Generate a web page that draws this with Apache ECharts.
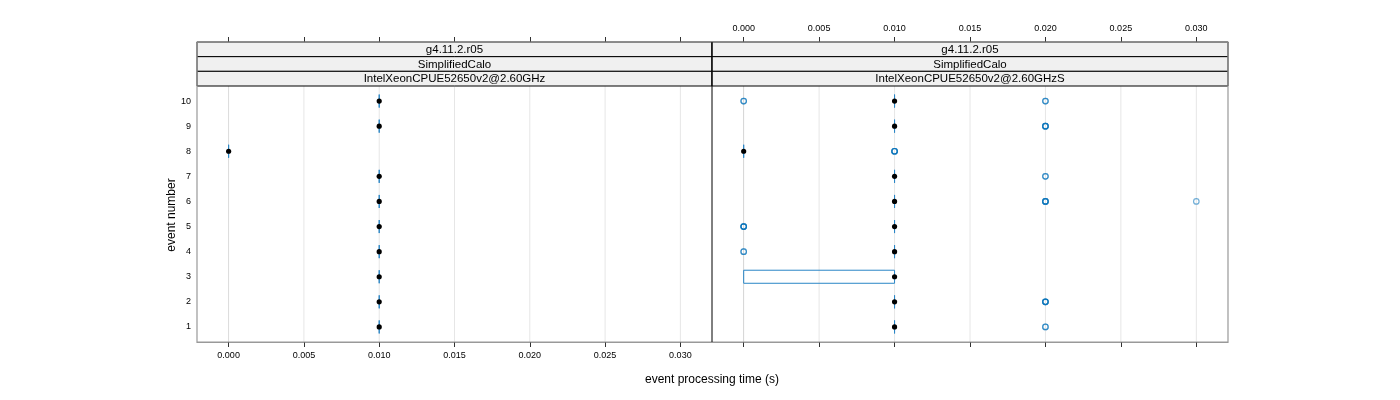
<!DOCTYPE html>
<html><head><meta charset="utf-8">
<script src="https://cdn.jsdelivr.net/npm/echarts@6/dist/echarts.min.js"></script>
<style>html,body{margin:0;padding:0;background:#fff}#c{width:1400px;height:400px}</style>
</head><body><div id="c"></div>
<script>
// ---- data ----
const events = [1, 2, 3, 4, 5, 6, 7, 8, 9, 10];
const xTicks = [0, 0.005, 0.010, 0.015, 0.020, 0.025, 0.030];
const yTicks = [1, 2, 3, 4, 5, 6, 7, 8, 9, 10];
const xLimits = [-0.0021, 0.0321];
const yLimits = [0.4, 10.6];
const stripLeft = ['g4.11.2.r05', 'SimplifiedCalo', 'IntelXeonCPUE52650v2@2.60GHz'];
const stripRight = ['g4.11.2.r05', 'SimplifiedCalo', 'IntelXeonCPUE52650v2@2.60GHzS'];
const xTitle = 'event processing time (s)';
const yTitle = 'event number';

// left panel (per event 1..10)
const leftLow    = [0.010, 0.010, 0.010, 0.010, 0.010, 0.010, 0.010, 0.000, 0.010, 0.010];
const leftQ1     = [0.010, 0.010, 0.010, 0.010, 0.010, 0.010, 0.010, 0.000, 0.010, 0.010];
const leftMedian = [0.010, 0.010, 0.010, 0.010, 0.010, 0.010, 0.010, 0.000, 0.010, 0.010];
const leftQ3     = [0.010, 0.010, 0.010, 0.010, 0.010, 0.010, 0.010, 0.000, 0.010, 0.010];
const leftHigh   = [0.010, 0.010, 0.010, 0.010, 0.010, 0.010, 0.010, 0.000, 0.010, 0.010];

// right panel
const rightLow    = [0.010, 0.010, 0.000, 0.010, 0.010, 0.010, 0.010, 0.000, 0.010, 0.010];
const rightQ1     = [0.010, 0.010, 0.000, 0.010, 0.010, 0.010, 0.010, 0.000, 0.010, 0.010];
const rightMedian = [0.010, 0.010, 0.010, 0.010, 0.010, 0.010, 0.010, 0.000, 0.010, 0.010];
const rightQ3     = [0.010, 0.010, 0.010, 0.010, 0.010, 0.010, 0.010, 0.000, 0.010, 0.010];
const rightHigh   = [0.010, 0.010, 0.010, 0.010, 0.010, 0.010, 0.010, 0.000, 0.010, 0.010];
// outliers (repeated values overlap and look darker)
const rightOutlierEvent = [1, 1, 2, 2, 2, 2, 4, 4, 5, 5, 5, 5, 6, 6, 6, 6, 6, 7, 7, 8, 8, 8, 8, 9, 9, 9, 9, 10, 10, 10, 10];
const rightOutlierTime  = [0.020, 0.020, 0.020, 0.020, 0.020, 0.020, 0.000, 0.000, 0.000, 0.000, 0.000, 0.000,
                           0.020, 0.020, 0.020, 0.020, 0.030, 0.020, 0.020, 0.010, 0.010, 0.010, 0.010,
                           0.020, 0.020, 0.020, 0.020, 0.000, 0.000, 0.020, 0.020];

// ---- build ----
function boxRows(low, q1, med, q3, high) {
  return events.map((e, i) => [e, low[i], q1[i], med[i], q3[i], high[i]]);
}
const BOX_COL = '#2a86c6';
const HALF = 0.26;
function renderBox(params, api) {
  const ev = api.value(0), low = api.value(1), q1 = api.value(2), med = api.value(3), q3 = api.value(4), high = api.value(5);
  const a = api.coord([q1, ev + HALF]), b = api.coord([q3, ev + HALF]);
  const c = api.coord([q3, ev - HALF]), d = api.coord([q1, ev - HALF]);
  const l = api.coord([low, ev]), l2 = api.coord([q1, ev]);
  const h1 = api.coord([q3, ev]), h = api.coord([high, ev]);
  const m = api.coord([med, ev]);
  return {
    type: 'group',
    children: [
      { type: 'polygon', shape: { points: [a, b, c, d] }, style: { fill: 'none', stroke: BOX_COL, lineWidth: 1 } },
      { type: 'line', shape: { x1: l[0], y1: l[1], x2: l2[0], y2: l2[1] }, style: { stroke: BOX_COL, lineWidth: 1 } },
      { type: 'line', shape: { x1: h1[0], y1: h1[1], x2: h[0], y2: h[1] }, style: { stroke: BOX_COL, lineWidth: 1 } },
      { type: 'circle', shape: { cx: m[0], cy: m[1], r: 2.6 }, style: { fill: '#000' } }
    ]
  };
}
function renderGridLine(params, api) {
  const v = api.value(0);
  const p1 = api.coord([v, yLimits[0]]), p2 = api.coord([v, yLimits[1]]);
  return { type: 'line', shape: { x1: p1[0], y1: p1[1], x2: p2[0], y2: p2[1] }, style: { stroke: '#e6e6e6', lineWidth: 1 } };
}

const labelFont = { fontFamily: 'Liberation Sans, Arial, sans-serif', fontSize: 9, color: '#000' };
const fmt = v => Number(v).toFixed(3);

const P = [{ left: 197, width: 515 }, { left: 712, width: 516 }];
const TOP = 86, BOTTOM = 342, STRIP_TOP = 42;

function xAxisDef(gridIndex, position, showLabels, offset) {
  return {
    type: 'value', gridIndex, position, offset: offset || 0,
    min: xLimits[0], max: xLimits[1],
    axisLine: { show: true, lineStyle: { color: '#999', width: 1 } },
    axisTick: { show: true, customValues: xTicks, length: 5, lineStyle: { color: '#333' } },
    axisLabel: Object.assign({ show: showLabels, customValues: xTicks, formatter: fmt, margin: 9 }, labelFont),
    splitLine: { show: false }
  };
}

const graphics = [];
const stripH = (TOP - STRIP_TOP) / 3;
[stripLeft, stripRight].forEach((labels, pi) => {
  labels.forEach((t, k) => {
    graphics.push({
      type: 'rect', z: 5,
      shape: { x: P[pi].left, y: STRIP_TOP + k * stripH, width: P[pi].width, height: stripH },
      style: { fill: '#f0f0f0', stroke: '#000', lineWidth: 1 }
    });
    graphics.push({
      type: 'text', z: 6,
      x: P[pi].left + P[pi].width / 2, y: STRIP_TOP + k * stripH + stripH / 2 + 0.5,
      style: { text: t, fill: '#000', font: '11.5px "Liberation Sans", Arial, sans-serif', textAlign: 'center', textVerticalAlign: 'middle' }
    });
  });
});
// outer frame and panel divider
graphics.push({ type: 'rect', z: 7, shape: { x: 197, y: STRIP_TOP, width: 1031, height: BOTTOM - STRIP_TOP }, style: { fill: 'none', stroke: '#999', lineWidth: 1.2 } });
graphics.push({ type: 'line', z: 8, shape: { x1: 712, y1: STRIP_TOP, x2: 712, y2: BOTTOM }, style: { stroke: '#000', lineWidth: 1 } });
graphics.push({ type: 'text', x: 712, y: 380, style: { text: xTitle, fill: '#000', font: '12px "Liberation Sans", Arial, sans-serif', textAlign: 'center', textVerticalAlign: 'middle' } });
graphics.push({ type: 'text', x: 172, y: 215, rotation: Math.PI / 2, style: { text: yTitle, fill: '#000', font: '12px "Liberation Sans", Arial, sans-serif', textAlign: 'center', textVerticalAlign: 'middle' } });

const chart = echarts.init(document.getElementById('c'), null, { renderer: 'canvas' });
chart.setOption({
  animation: false,
  backgroundColor: '#fff',
  grid: [
    { left: P[0].left, width: P[0].width, top: TOP, height: BOTTOM - TOP },
    { left: P[1].left, width: P[1].width, top: TOP, height: BOTTOM - TOP }
  ],
  xAxis: [
    xAxisDef(0, 'bottom', true, 0),
    xAxisDef(1, 'bottom', false, 0),
    xAxisDef(0, 'top', false, TOP - STRIP_TOP),
    xAxisDef(1, 'top', true, TOP - STRIP_TOP)
  ],
  yAxis: [
    {
      type: 'value', gridIndex: 0, min: yLimits[0], max: yLimits[1],
      axisLine: { show: true, lineStyle: { color: '#999' } },
      axisTick: { show: false },
      axisLabel: Object.assign({ customValues: yTicks, margin: 6 }, labelFont),
      splitLine: { show: false }
    },
    {
      type: 'value', gridIndex: 1, position: 'right', min: yLimits[0], max: yLimits[1],
      axisLine: { show: true, lineStyle: { color: '#999' } },
      axisTick: { show: false }, axisLabel: { show: false }, splitLine: { show: false }
    }
  ],
  graphic: graphics,
  series: [
    { type: 'custom', xAxisIndex: 0, yAxisIndex: 0, z: 1, silent: true, renderItem: renderGridLine, data: xTicks.map(v => [v]), clip: false },
    { type: 'custom', xAxisIndex: 1, yAxisIndex: 1, z: 1, silent: true, renderItem: renderGridLine, data: xTicks.map(v => [v]), clip: false },
    { type: 'custom', xAxisIndex: 0, yAxisIndex: 0, z: 3, renderItem: renderBox, data: boxRows(leftLow, leftQ1, leftMedian, leftQ3, leftHigh) },
    { type: 'custom', xAxisIndex: 1, yAxisIndex: 1, z: 3, renderItem: renderBox, data: boxRows(rightLow, rightQ1, rightMedian, rightQ3, rightHigh) },
    {
      type: 'scatter', xAxisIndex: 1, yAxisIndex: 1, z: 2,
      symbol: 'circle', symbolSize: 5.5,
      itemStyle: { color: 'rgba(0,0,0,0)', borderColor: '#0070b8', borderWidth: 1.2, opacity: 0.55 },
      data: rightOutlierTime.map((t, i) => [t, rightOutlierEvent[i]])
    }
  ]
});
</script>
</body></html>
